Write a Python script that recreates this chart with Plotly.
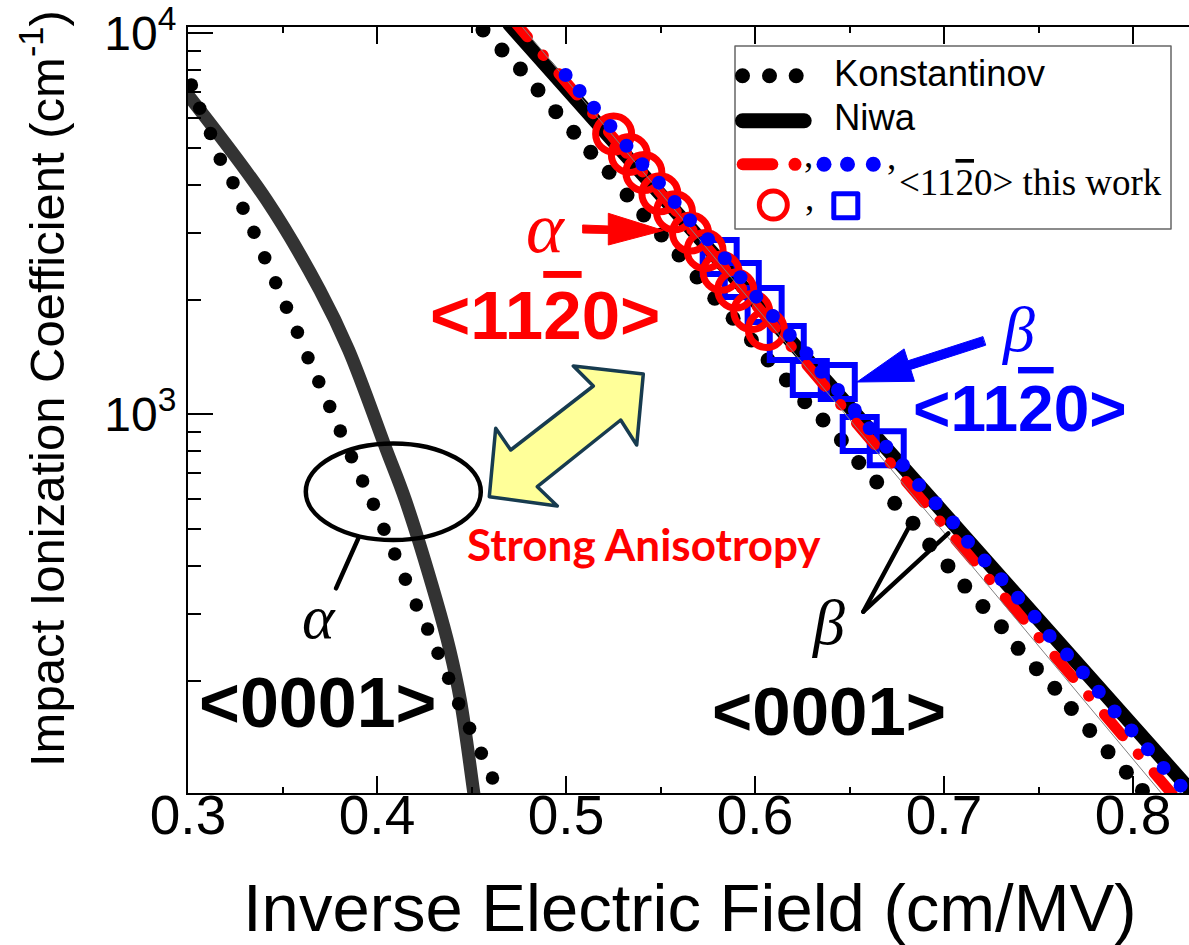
import plotly.graph_objects as go

# ---------------- data ----------------
# Konstantinov, alpha along <0001>
k_alpha_x = [0.3018, 0.3062, 0.3119, 0.3171, 0.3238, 0.3291, 0.3349, 0.3406, 0.3464, 0.3521,
             0.3579, 0.3635, 0.3692, 0.3750, 0.3806, 0.3865, 0.3924, 0.3981, 0.4037, 0.4094,
             0.4150, 0.4208, 0.4268, 0.4323, 0.4379, 0.4432, 0.4490, 0.4552, 0.4611]
k_alpha_y = [7315, 6353, 5455, 4670, 4055, 3473, 3004, 2577, 2215, 1909,
             1641, 1407, 1218, 1048, 904, 774, 668, 581, 499, 430,
             369, 316, 273, 236, 203, 174, 150, 129, 111]

# Niwa, alpha along <0001>
n_alpha_x = [0.3000, 0.3415, 0.3697, 0.3850, 0.4050, 0.4150, 0.4314, 0.4385, 0.4441, 0.4512, 0.4530]
n_alpha_y = [6887, 3652, 2120, 1475, 806, 596, 325.5, 240.7, 178, 101.6, 88]

# Konstantinov, beta along <0001>
k_beta_x = [0.4561, 0.4661, 0.4759, 0.4852, 0.4946, 0.5041, 0.5131, 0.5228, 0.5323, 0.5411,
            0.5505, 0.5598, 0.5693, 0.5787, 0.5884, 0.5981, 0.6069, 0.6166, 0.6263, 0.6360,
            0.6457, 0.6549, 0.6644, 0.6739, 0.6836, 0.6924, 0.7021, 0.7110, 0.7206, 0.7304,
            0.7392, 0.7489, 0.7586, 0.7674, 0.7771, 0.7868, 0.7965, 0.8050]
k_beta_y = [10200, 9042, 8060, 7100, 6227, 5499, 4872, 4318, 3764, 3336,
            2955, 2619, 2293, 2016, 1786, 1567, 1388, 1230, 1079, 966,
            856, 747, 664, 584, 518, 454, 400, 354, 313, 277,
            243, 215, 191, 169, 148, 130, 115, 103]

# Niwa, beta along <0001>
n_beta_x = [0.470, 0.550, 0.650, 0.750, 0.835]
n_beta_y = [10555, 3776, 1045, 289, 97.1]

# this work, alpha along <11-20> (model)
tw_alpha_x = [0.470, 0.478, 0.6496, 0.8212, 0.830]
tw_alpha_y = [11135, 10000, 1000, 100, 89]

# fitted line through the <11-20> data
fit_x = [0.470, 0.5231, 0.8123, 0.830]
fit_y = [11414, 5516, 105.1, 82.5]

# this work, beta along <11-20> (model)
tw_beta_x = [0.4998, 0.5072, 0.5148, 0.5235, 0.5320, 0.5404, 0.5492, 0.5575, 0.5656, 0.5751,
             0.5840, 0.5923, 0.6007, 0.6095, 0.6184, 0.6272, 0.6351, 0.6439, 0.6528, 0.6607,
             0.6695, 0.6783, 0.6868, 0.6956, 0.7048, 0.7127, 0.7215, 0.7304, 0.7392, 0.7480,
             0.7559, 0.7651, 0.7735, 0.7819, 0.7903, 0.7992, 0.8079, 0.8162, 0.8252]
tw_beta_y = [7775, 7056, 6378, 5711, 5070, 4531, 4055, 3607, 3230, 2879,
             2567, 2289, 2036, 1811, 1615, 1446, 1293, 1158, 1026, 919,
             822, 736, 652, 584, 520, 463, 413, 369, 330, 294,
             262, 234, 210, 187, 166, 148, 132, 118, 106]

# measured alpha, <11-20>
meas_alpha_x = [0.5252, 0.5335, 0.5412, 0.5497, 0.5574, 0.5659, 0.5736, 0.5821, 0.5898, 0.5983, 0.6060]
meas_alpha_y = [5440, 4810, 4310, 3790, 3400, 2990, 2690, 2360, 2120, 1860, 1670]

# measured beta, <11-20>
meas_beta_x = [0.5813, 0.5930, 0.6051, 0.6168, 0.6290, 0.6438, 0.6554, 0.6697]
meas_beta_y = [2588, 2252, 1936, 1539, 1245, 1216, 888, 814]

x_tick_vals = [0.3, 0.4, 0.5, 0.6, 0.7, 0.8]
x_tick_text = ["0.3", "0.4", "0.5", "0.6", "0.7", "0.8"]
y_tick_vals = [1e3, 1e4]
y_tick_text = ["10<sup>3</sup>", "10<sup>4</sup>"]

# ---------------- layout geometry ----------------
W, H = 1189, 945
L, R, T, B = 188, 0, 27, 152
PW, PH = W - L - R, H - T - B
X_RANGE = [0.3, 0.3 + PW / 1890.0]
Y_RANGE = [4.0165 - PH / 381.0, 4.0165]


def xp(px):
    return (px - L) / PW


def yp(py):
    return (T + PH - py) / PH


SANS = "Liberation Sans, Arial, sans-serif"
SERIF = "Liberation Serif, Times New Roman, serif"
RED = "#FF0000"
BLUE = "#0000FF"

fig = go.Figure()

# alpha <0001>
fig.add_trace(go.Scatter(x=n_alpha_x, y=n_alpha_y, mode="lines", line_shape="spline",
                         line=dict(color="#333333", width=13), showlegend=False))
fig.add_trace(go.Scatter(x=k_alpha_x, y=k_alpha_y, mode="markers",
                         marker=dict(color="black", size=13.5), showlegend=False))
# beta <0001>
fig.add_trace(go.Scatter(x=k_beta_x, y=k_beta_y, mode="markers",
                         marker=dict(color="black", size=15), showlegend=False))
fig.add_trace(go.Scatter(x=n_beta_x, y=n_beta_y, mode="lines",
                         line=dict(color="black", width=14), showlegend=False))
# measured data along <11-20>
fig.add_trace(go.Scatter(x=meas_beta_x, y=meas_beta_y, mode="markers",
                         marker=dict(symbol="square-open", color=BLUE, size=34,
                                     line=dict(color=BLUE, width=6)), showlegend=False))
fig.add_trace(go.Scatter(x=meas_alpha_x, y=meas_alpha_y, mode="markers",
                         marker=dict(symbol="circle-open", color=RED, size=36,
                                     line=dict(color=RED, width=7)), showlegend=False))
# models along <11-20>
fig.add_trace(go.Scatter(x=tw_alpha_x, y=tw_alpha_y, mode="lines",
                         line=dict(color=RED, width=11, dash="28px,24px,0.5px,24px"),
                         showlegend=False))
fig.add_trace(go.Scatter(x=fit_x, y=fit_y, mode="lines",
                         line=dict(color="#808080", width=1), showlegend=False))
fig.add_trace(go.Scatter(x=tw_beta_x, y=tw_beta_y, mode="markers",
                         marker=dict(color=BLUE, size=14), showlegend=False))

shapes = []
annotations = []


def poly(points, fill, line_color, lw):
    path = "M " + " L ".join(f"{xp(a):.5f},{yp(b):.5f}" for a, b in points) + " Z"
    shapes.append(dict(type="path", xref="paper", yref="paper", path=path,
                       fillcolor=fill, line=dict(color=line_color, width=lw), layer="above"))


def seg(x0, y0, x1, y1, color, lw):
    shapes.append(dict(type="line", xref="paper", yref="paper",
                       x0=xp(x0), y0=yp(y0), x1=xp(x1), y1=yp(y1),
                       line=dict(color=color, width=lw), layer="above"))


def dot(cx, cy, d, color, fill=True, lw=0):
    r = d / 2.0
    shapes.append(dict(type="circle", xref="paper", yref="paper",
                       x0=xp(cx - r), x1=xp(cx + r), y0=yp(cy + r), y1=yp(cy - r),
                       fillcolor=color if fill else "rgba(0,0,0,0)",
                       line=dict(color=color, width=lw), layer="above"))


def text(s, cx, cy, size, color="black", family=SANS, xanchor="center", angle=0):
    annotations.append(dict(text=s, x=xp(cx), y=yp(cy), xref="paper", yref="paper",
                            showarrow=False, xanchor=xanchor, yanchor="middle",
                            textangle=angle, borderpad=0,
                            font=dict(size=size, color=color, family=family)))


OVER2 = "<span style='text-decoration:overline'>2</span>"

# ellipse around the <0001> alpha curves and its pointer
shapes.append(dict(type="circle", xref="paper", yref="paper",
                   x0=xp(305.8), x1=xp(480.8), y0=yp(540), y1=yp(443.4),
                   line=dict(color="black", width=4.5), layer="above"))
seg(358.3, 538.3, 336, 588.3, "black", 4.5)
# pointer lines for beta <0001>
seg(863.3, 611.7, 908.3, 528.3, "black", 4.5)
seg(863.3, 611.7, 948.3, 533.3, "black", 4.5)

# double-headed arrow
poly([(489.3, 496.7), (495.7, 428.3), (510.7, 450), (593.3, 386), (573.3, 366),
      (643.3, 374), (636.7, 445), (620.7, 420), (537.3, 486.7), (557.3, 506)],
     "#FFFF99", "#173B4F", 3.5)

# red arrow pointing at alpha data
poly([(583, 225), (608.3, 226), (608.3, 213.3), (663.3, 230.5), (608.3, 245),
      (608.3, 233.5), (583, 233)], RED, RED, 1)
# blue arrow pointing at beta data
poly([(985.4, 345.3), (910.7, 369.4), (914.5, 381.3), (857, 382), (904.1, 348.9),
      (907.9, 360.8), (982.6, 336.7)], BLUE, BLUE, 1)

# text labels in the plot
text("<i>α</i>", 319, 617, 62, family=SERIF)
text("<b>&lt;0001&gt;</b>", 317.5, 702.5, 70)
text("<i>β</i>", 828, 622, 64, family=SERIF)
text("<b>&lt;0001&gt;</b>", 829, 711, 69)
text("<i>α</i>", 545, 228, 72, color=RED, family=SERIF)
text("<b>&lt;11" + OVER2 + "0&gt;</b>", 545, 315, 69, color=RED)
text("<i>β</i>", 1018, 329, 64, color=BLUE, family=SERIF)
text("<b>&lt;11" + OVER2 + "0&gt;</b>", 1020, 409, 64, color=BLUE)
text("<b>Strong Anisotropy</b>", 643.5, 544, 44, color=RED, family="Lato, Open Sans, sans-serif")

# legend box
shapes.append(dict(type="rect", xref="paper", yref="paper",
                   x0=xp(735), x1=xp(1171), y0=yp(229), y1=yp(46),
                   fillcolor="white", line=dict(color="#666666", width=1.5), layer="above"))
for cx in (742.5, 769.5, 796.2):
    dot(cx, 75.8, 15, "black")
text("Konstantinov", 833, 73.4, 36.5, xanchor="left")
seg(742.5, 120.8, 804.2, 120.8, "black", 15)
text("Niwa", 833, 118, 36.5, xanchor="left")
seg(742.7, 164.3, 772.3, 164.3, RED, 12)
dot(795, 164.3, 13, RED)
text(",", 808, 154, 37, family=SERIF)
for cx in (824, 847.5, 873.3):
    dot(cx, 164.3, 15, BLUE)
text(",", 891, 157, 37, family=SERIF)
text("&lt;11" + OVER2 + "0&gt; this work", 898, 182.5, 37, family=SERIF, xanchor="left")
dot(773.3, 205, 28, RED, fill=False, lw=5)
text(",", 809, 198, 37, family=SERIF)
shapes.append(dict(type="rect", xref="paper", yref="paper",
                   x0=xp(833.8), x1=xp(857.8), y0=yp(217.8), y1=yp(193.8),
                   line=dict(color=BLUE, width=5), layer="above"))

# axis titles
text("Inverse Electric Field (cm/MV)", 689, 907.5, 67)
text("Impact Ionization Coefficient (cm<sup>-1</sup>)", 43, 389, 49, angle=-90)

fig.update_layout(
    width=W, height=H, autosize=False,
    margin=dict(l=L, r=R, t=T, b=B, pad=0),
    paper_bgcolor="white", plot_bgcolor="white",
    showlegend=False,
    shapes=shapes, annotations=annotations,
    xaxis=dict(range=X_RANGE, tickvals=x_tick_vals, ticktext=x_tick_text,
               ticks="inside", ticklen=17, tickwidth=2, tickcolor="black",
               ticklabelstandoff=-27, ticklabeloverflow="allow",
               showline=True, linecolor="black", linewidth=2, mirror="ticks",
               showgrid=False, zeroline=False,
               minor=dict(ticks="inside", ticklen=6, tickwidth=2, tickcolor="black",
                          dtick=0.05, tick0=0.3, showgrid=False),
               tickfont=dict(family=SANS, size=55, color="black")),
    yaxis=dict(type="log", range=Y_RANGE, tickvals=y_tick_vals, ticktext=y_tick_text,
               ticks="inside", ticklen=25, tickwidth=2, tickcolor="black",
               ticklabeloverflow="allow",
               showline=True, linecolor="black", linewidth=2, mirror=False,
               showgrid=False, zeroline=False,
               minor=dict(ticks="inside", ticklen=13, tickwidth=2, tickcolor="black",
                          dtick="D1", showgrid=False),
               tickfont=dict(family=SANS, size=48, color="black")),
    yaxis2=dict(type="log", range=Y_RANGE, overlaying="y", side="right",
                tickvals=y_tick_vals, showticklabels=False,
                ticks="inside", ticklen=25, tickwidth=2, tickcolor="black",
                showline=False, showgrid=False, zeroline=False,
                minor=dict(ticks="inside", ticklen=13, tickwidth=2, tickcolor="black",
                           dtick="D1", showgrid=False)),
)

post = """
var gd = document.getElementById('{plot_id}');
function roundCaps() {
  gd.querySelectorAll('.scatterlayer .js-line, .shapelayer path').forEach(function(p) {
    p.style.strokeLinecap = 'round';
    p.style.strokeLinejoin = 'round';
  });
}
roundCaps();
if (gd.on) { gd.on('plotly_afterplot', roundCaps); }
setTimeout(roundCaps, 50);
"""

fig.write_html("out.html", post_script=post)
